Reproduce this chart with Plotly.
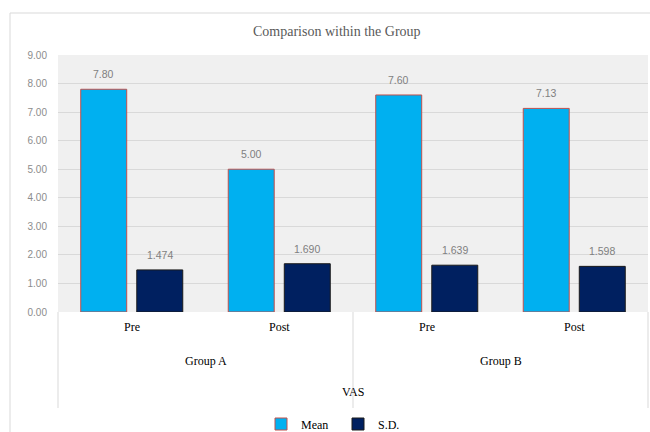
import plotly.graph_objects as go

# ---- data ----
groups = ["Group A", "Group A", "Group B", "Group B"]
phases = ["Pre", "Post", "Pre", "Post"]
mean_vals = [7.80, 5.00, 7.60, 7.13]
sd_vals = [1.474, 1.690, 1.639, 1.598]
group_names = ["Group A", "Group B"]
outer_label = "VAS"
title_text = "Comparison within the Group"
y_ticks = [0, 1, 2, 3, 4, 5, 6, 7, 8, 9]

cats = [f"{g} {p}" for g, p in zip(groups, phases)]

W, H = 650, 432
ML, MR, MT, MB = 58, 2, 55, 120
pw, ph = W - ML - MR, H - MT - MB
BARGAP, BARGROUPGAP = 0.24, 0.18

def px_x(x):
    return (x - ML) / pw

def px_y(y):
    return (H - MB - y) / ph

serif = "Liberation Serif, Times New Roman, serif"
sans = "Liberation Sans, Arial, sans-serif"

fig = go.Figure()
fig.add_trace(go.Bar(
    x=cats, y=mean_vals, name="Mean",
    marker=dict(color="#00B0F0", line=dict(color="#C0504D", width=1)),
))
fig.add_trace(go.Bar(
    x=cats, y=sd_vals, name="S.D.",
    marker=dict(color="#002060", line=dict(color="#1a1a1a", width=1)),
))

n = len(cats)
cat_px = pw / n
slot_px = cat_px * (1 - BARGAP) / 2

annotations = []
# data labels
for series, fmt, sgn in [(mean_vals, "{:.2f}", -1), (sd_vals, "{:.3f}", 1)]:
    for i, v in enumerate(series):
        annotations.append(dict(x=i, y=v, xref="x", yref="y", text=fmt.format(v),
                                showarrow=False, xshift=sgn * slot_px / 2, yshift=7,
                                yanchor="bottom", xanchor="center",
                                font=dict(family=sans, size=10.5, color="#7F7F7F")))
# phase labels
for i, p in enumerate(phases):
    annotations.append(dict(x=i, y=px_y(327), xref="x", yref="paper", text=p,
                            showarrow=False, font=dict(family=serif, size=12, color="#000"),
                            xanchor="center", yanchor="middle"))
# group labels
for g in group_names:
    idx = [i for i, gg in enumerate(groups) if gg == g]
    cx = (min(idx) + max(idx)) / 2
    annotations.append(dict(x=cx, y=px_y(361), xref="x", yref="paper", text=g,
                            showarrow=False, font=dict(family=serif, size=12, color="#000"),
                            xanchor="center", yanchor="middle"))
annotations.append(dict(x=(n - 1) / 2, y=px_y(392), xref="x", yref="paper", text=outer_label,
                        showarrow=False, font=dict(family=serif, size=12, color="#000"),
                        xanchor="center", yanchor="middle"))
annotations.append(dict(x=px_x(337), y=px_y(31), xref="paper", yref="paper", text=title_text,
                        showarrow=False, font=dict(family=serif, size=14, color="#595959"),
                        xanchor="center", yanchor="middle"))

shapes = []
# separators under axis (paper coords from category positions, range -0.5..n-0.5)
for b in [-0.5, 1.5, n - 0.5]:
    xp = (b + 0.5) / n
    shapes.append(dict(type="line", xref="paper", yref="paper", x0=xp, x1=xp,
                       y0=0, y1=px_y(408), line=dict(color="#D9D9D9", width=1)))
# chart border (left & top)
shapes.append(dict(type="line", xref="paper", yref="paper", x0=px_x(10), x1=px_x(10),
                   y0=px_y(13), y1=px_y(440), line=dict(color="#D9D9D9", width=1)))
shapes.append(dict(type="line", xref="paper", yref="paper", x0=px_x(10), x1=px_x(660),
                   y0=px_y(13), y1=px_y(13), line=dict(color="#D9D9D9", width=1)))

fig.update_layout(
    width=W, height=H,
    margin=dict(l=ML, r=MR, t=MT, b=MB, autoexpand=False),
    paper_bgcolor="white", plot_bgcolor="#F0F0F0",
    barmode="group", bargap=BARGAP, bargroupgap=BARGROUPGAP,
    showlegend=True,
    legend=dict(orientation="h", x=px_x(338), xanchor="center", y=px_y(424), yanchor="middle",
                font=dict(family=serif, size=12, color="#000"), itemwidth=30,
                entrywidth=32, entrywidthmode="pixels",
                bgcolor="rgba(0,0,0,0)"),
    annotations=annotations, shapes=shapes,
    xaxis=dict(range=[-0.5, n - 0.5], showticklabels=False, showgrid=False,
               zeroline=False, showline=False, type="category"),
    yaxis=dict(range=[0, 9], tickvals=y_ticks, tickformat=".2f",
               gridcolor="#D9D9D9", gridwidth=1, zeroline=False, showline=False,
               tickfont=dict(family=sans, size=10, color="#8C8C8C"),
               ticks="outside", ticklen=8, tickcolor="rgba(0,0,0,0)"),
)

fig.write_html("out.html")
